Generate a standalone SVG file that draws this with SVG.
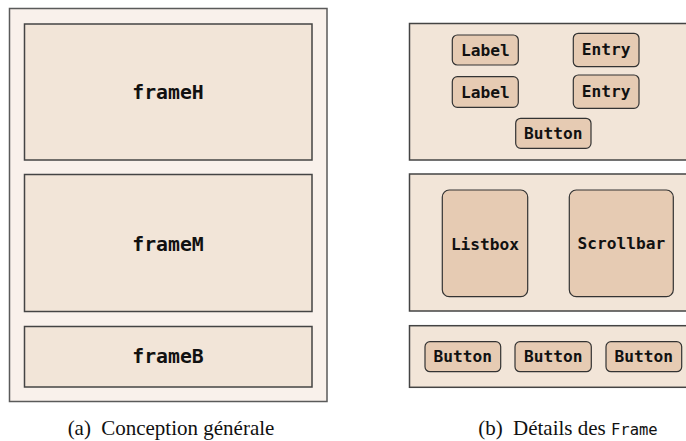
<svg xmlns="http://www.w3.org/2000/svg" width="686" height="441" viewBox="0 0 686 441">
<style>
.outer{fill:#f9f1eb;stroke:#5a5a5a;stroke-width:1.5}
.frame{fill:#f2e5d8;stroke:#444;stroke-width:1.5}
.w{fill:#e6cbb3;stroke:#333;stroke-width:1.2}
.fl{font-family:"DejaVu Sans Mono",monospace;font-weight:bold;font-size:19.8px;fill:#111;text-anchor:middle}
.wl{font-family:"DejaVu Sans Mono",monospace;font-weight:bold;font-size:16.2px;fill:#111;text-anchor:middle}
.cap{font-family:"Liberation Serif",serif;font-size:21px;fill:#111;text-anchor:middle}
.mono{font-family:"DejaVu Sans Mono",monospace;font-size:15.5px}
</style>
<g id="left-panel">
<rect class="outer" x="9.5" y="8.5" width="317.5" height="393"/>
</g>
<g id="frameH"><rect class="frame" x="24.5" y="24" width="287.5" height="136"/><text class="fl" x="168" y="99">frameH</text></g>
<g id="frameM"><rect class="frame" x="24.5" y="174.5" width="287.5" height="137"/><text class="fl" x="168" y="250.5">frameM</text></g>
<g id="frameB"><rect class="frame" x="24.5" y="326.5" width="287.5" height="60.5"/><text class="fl" x="168" y="363.3">frameB</text></g>
<g id="frame-top-detail"><rect class="frame" x="409.5" y="23.5" width="290" height="136.5"/></g>
<g id="label1"><rect class="w" x="452.3" y="35" width="66" height="30" rx="5"/><text class="wl" x="485.3" y="55.8">Label</text></g>
<g id="entry1"><rect class="w" x="573.3" y="33.3" width="65.7" height="33.4" rx="5"/><text class="wl" x="606.2" y="55.4">Entry</text></g>
<g id="label2"><rect class="w" x="452.3" y="76.7" width="66" height="30.6" rx="5"/><text class="wl" x="485.3" y="97.8">Label</text></g>
<g id="entry2"><rect class="w" x="573.3" y="75" width="65.7" height="33.3" rx="5"/><text class="wl" x="606.2" y="97">Entry</text></g>
<g id="button-top"><rect class="w" x="515.7" y="118.3" width="75.3" height="30" rx="5"/><text class="wl" x="553.3" y="138.9">Button</text></g>
<g id="frame-mid-detail"><rect class="frame" x="409.5" y="174" width="290" height="137"/></g>
<g id="listbox"><rect class="w" x="442.3" y="190" width="85.4" height="106.7" rx="7"/><text class="wl" x="485" y="250">Listbox</text></g>
<g id="scrollbar"><rect class="w" x="569.3" y="190" width="104" height="106.7" rx="7"/><text class="wl" x="621.3" y="249.2">Scrollbar</text></g>
<g id="frame-bot-detail"><rect class="frame" x="409.5" y="325.7" width="290" height="61.6"/></g>
<g id="button1"><rect class="w" x="425" y="341.7" width="75.7" height="30" rx="5"/><text class="wl" x="462.8" y="362.2">Button</text></g>
<g id="button2"><rect class="w" x="515" y="341.7" width="76.3" height="30" rx="5"/><text class="wl" x="553.2" y="362.2">Button</text></g>
<g id="button3"><rect class="w" x="606" y="341.7" width="75.7" height="30" rx="5"/><text class="wl" x="643.8" y="362.2">Button</text></g>
<g id="connectors"/>
<text class="cap" x="171" y="435.3">(a)<tspan dx="5"> Conception générale</tspan></text>
<text class="cap" x="568" y="435.3">(b)<tspan dx="5"> Détails des </tspan><tspan class="mono">Frame</tspan></text>
</svg>
